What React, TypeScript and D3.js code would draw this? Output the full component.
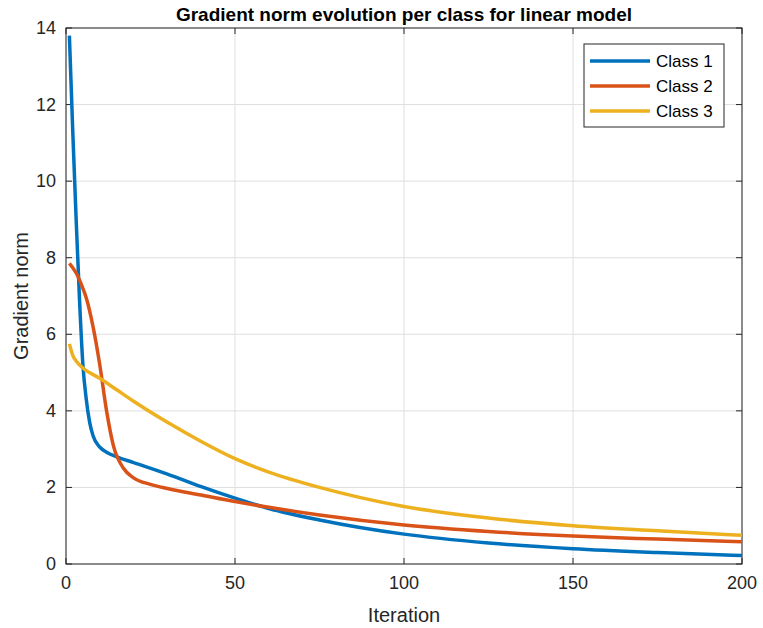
import React from "react";
import * as d3 from "d3";

const xs1 = [1, 2, 3, 4, 5, 6, 7, 8, 10, 12, 15, 20, 30, 40, 50, 60, 75, 100, 125, 150, 175, 200];
const c1 = [13.8, 11.3, 9.0, 6.9, 5.2, 4.3, 3.7, 3.35, 3.05, 2.92, 2.8, 2.65, 2.35, 2.02, 1.72, 1.45, 1.15, 0.78, 0.55, 0.4, 0.3, 0.22];
const xs2 = [1, 3, 5, 6, 8, 10, 12, 14, 17, 20, 25, 30, 40, 50, 60, 75, 100, 125, 150, 175, 200];
const c2 = [7.85, 7.6, 7.2, 6.95, 6.2, 5.2, 4.0, 3.1, 2.5, 2.25, 2.08, 1.97, 1.8, 1.63, 1.48, 1.28, 1.02, 0.85, 0.73, 0.65, 0.58];
const xs3 = [1, 2, 3, 5, 10, 15, 20, 30, 40, 50, 60, 75, 100, 125, 150, 175, 200];
const c3 = [5.75, 5.45, 5.3, 5.12, 4.85, 4.55, 4.25, 3.7, 3.2, 2.75, 2.4, 2.0, 1.5, 1.2, 1.0, 0.87, 0.75];
const names = ["Class 1", "Class 2", "Class 3"];
const colors = ["#0072BD", "#D95319", "#EDB120"];
const xTicks = [0, 50, 100, 150, 200];
const yTicks = [0, 2, 4, 6, 8, 10, 12, 14];

export default function App() {
  const L = 66, R = 742, T = 28, B = 564;
  const x = d3.scaleLinear().domain([0, 200]).range([L, R]);
  const y = d3.scaleLinear().domain([0, 14]).range([B, T]);
  const line = d3.line<[number, number]>().x(d => x(d[0])).y(d => y(d[1])).curve(d3.curveMonotoneX);
  const series = [[xs1, c1], [xs2, c2], [xs3, c3]].map(([a, b]) => a.map((v, i) => [v, b[i]] as [number, number]));
  const font = "'Liberation Sans', Arial, Helvetica, sans-serif";
  return (
    <svg width={763} height={628} style={{ position: "absolute", left: 0, top: 0 }} fontFamily={font}>
      <rect width={763} height={628} fill="#fff" />
      {xTicks.map(t => <line key={"gx" + t} x1={x(t)} x2={x(t)} y1={T} y2={B} stroke="#dfdfdf" />)}
      {yTicks.map(t => <line key={"gy" + t} x1={L} x2={R} y1={y(t)} y2={y(t)} stroke="#dfdfdf" />)}
      <rect x={L} y={T} width={R - L} height={B - T} fill="none" stroke="#262626" />
      {xTicks.map(t => <g key={"tx" + t}>
        <line x1={x(t)} x2={x(t)} y1={B} y2={B - 6} stroke="#262626" />
        <line x1={x(t)} x2={x(t)} y1={T} y2={T + 6} stroke="#262626" />
        <text x={x(t)} y={B + 25} textAnchor="middle" fontSize={18} fill="#262626">{t}</text>
      </g>)}
      {yTicks.map(t => <g key={"ty" + t}>
        <line x1={L} x2={L + 6} y1={y(t)} y2={y(t)} stroke="#262626" />
        <line x1={R} x2={R - 6} y1={y(t)} y2={y(t)} stroke="#262626" />
        <text x={L - 10} y={y(t) + 6} textAnchor="end" fontSize={18} fill="#262626">{t}</text>
      </g>)}
      {series.map((s, i) => <path key={i} d={line(s) || ""} fill="none" stroke={colors[i]} strokeWidth={3.5} />)}
      <text x={(L + R) / 2} y={21} textAnchor="middle" fontSize={19} fontWeight="bold" fill="#000">Gradient norm evolution per class for linear model</text>
      <text x={(L + R) / 2} y={622} textAnchor="middle" fontSize={20} fill="#262626">Iteration</text>
      <text transform={`translate(28,${(T + B) / 2}) rotate(-90)`} textAnchor="middle" fontSize={20} fill="#262626">Gradient norm</text>
      <rect x={584} y={44} width={140} height={83} fill="#fff" stroke="#262626" />
      {names.map((n, i) => <g key={n}>
        <line x1={590} x2={650} y1={61 + i * 25} y2={61 + i * 25} stroke={colors[i]} strokeWidth={3.5} />
        <text x={656} y={67 + i * 25} fontSize={17} fill="#000">{n}</text>
      </g>)}
    </svg>
  );
}
